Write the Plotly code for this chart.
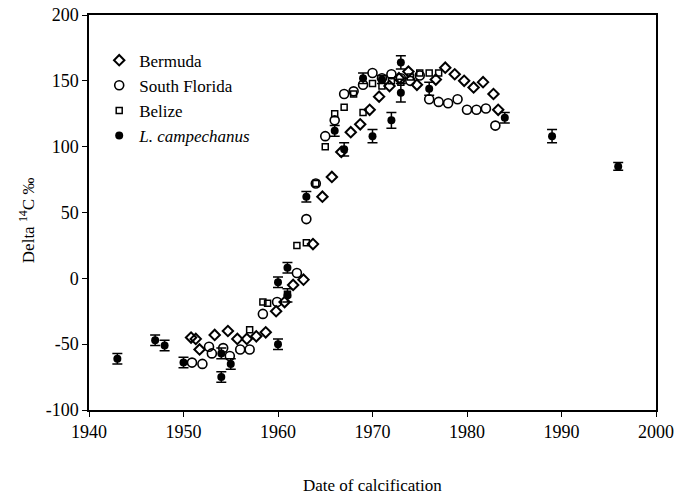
import plotly.graph_objects as go

# Bermuda (coral)
bermuda_x = [1950.8, 1951.3, 1951.7, 1953.3, 1954.7, 1955.7, 1956.7, 1957.7, 1958.7, 1959.8,
             1960.7, 1961.6, 1962.7, 1963.7, 1964.7, 1965.7, 1966.7, 1967.7, 1968.7, 1969.7,
             1970.7, 1971.8, 1972.8, 1973.8, 1974.7, 1976.7, 1977.7, 1978.7, 1979.7, 1980.7,
             1981.7, 1982.8, 1983.3]
bermuda_y = [-45, -46, -54, -43, -40, -46, -46, -44, -41, -25,
             -18, -5, -1, 26, 62, 77, 96, 111, 117, 128,
             138, 146, 152, 157, 147, 151, 160, 155, 150, 145,
             149, 140, 128]

# South Florida (coral)
florida_x = [1950.9, 1952.0, 1952.7, 1953.0, 1954.2, 1954.9, 1956.0, 1957.0, 1958.4, 1959.9,
             1962.0, 1963.0, 1964.0, 1965.0, 1966.0, 1967.0, 1968.0, 1969.0, 1970.0, 1971.0,
             1972.0, 1973.0, 1974.0, 1975.0, 1976.0, 1977.0, 1978.0, 1979.0, 1980.0, 1981.0,
             1982.0, 1983.0]
florida_y = [-64, -65, -52, -57, -53, -59, -54, -54, -27, -18,
             4, 45, 72, 108, 120, 140, 142, 147, 156, 152,
             155, 152, 150, 154, 136, 134, 133, 136, 128, 128,
             129, 116]

# Belize (coral)
belize_x = [1957.0, 1958.4, 1958.9, 1961.0, 1962.0, 1963.0, 1964.0, 1965.0, 1966.0, 1967.0,
            1968.0, 1969.0, 1970.0, 1971.0, 1972.0, 1973.0, 1974.0, 1975.0, 1976.0, 1977.0]
belize_y = [-39, -18, -19, -12, 25, 27, 72, 100, 125, 130,
            140, 126, 148, 146, 150, 149, 153, 156, 156, 156]

# L. campechanus (otoliths) with error
lc_x = [1943, 1947, 1948, 1950, 1954, 1954, 1955, 1960, 1960, 1961, 1961, 1963,
        1966, 1967, 1969, 1970, 1971, 1972, 1973, 1973, 1976, 1984, 1989, 1996]
lc_y = [-61, -47, -51, -64, -57, -75, -65, -3, -50, 8, -13, 62,
        112, 98, 152, 108, 151, 120, 164, 141, 144, 122, 108, 85]
lc_err = [4, 4, 4, 4, 4, 4, 4, 4, 4, 4, 5, 4,
          4, 5, 4, 5, 3, 6, 5, 7, 5, 4, 5, 3]

# tick labels
x_ticks = [1940, 1950, 1960, 1970, 1980, 1990, 2000]
x_ticklabels = ["1940", "1950", "1960", "1970", "1980", "1990", "2000"]
y_ticks = [-100, -50, 0, 50, 100, 150, 200]
y_ticklabels = ["-100", "-50", "0", "50", "100", "150", "200"]

x_title = "Date of calcification"
y_title = "Delta <sup>14</sup>C \u2030"

FONT = "Liberation Serif, Times New Roman, serif"

fig = go.Figure()
fig.add_trace(go.Scatter(
    x=bermuda_x, y=bermuda_y, mode="markers", name="Bermuda",
    marker=dict(symbol="diamond-open", size=8, color="black", line=dict(width=2, color="black"))))
fig.add_trace(go.Scatter(
    x=florida_x, y=florida_y, mode="markers", name="South Florida",
    marker=dict(symbol="circle-open", size=9, color="black", line=dict(width=1.6, color="black"))))
fig.add_trace(go.Scatter(
    x=belize_x, y=belize_y, mode="markers", name="Belize",
    marker=dict(symbol="square-open", size=6, color="black", line=dict(width=1.5, color="black"))))
fig.add_trace(go.Scatter(
    x=lc_x, y=lc_y, mode="markers", name="<i>L. campechanus</i>",
    marker=dict(symbol="circle", size=8, color="black"),
    error_y=dict(type="data", array=lc_err, visible=True, color="black", thickness=1.5, width=5)))

fig.update_layout(
    width=674, height=494,
    margin=dict(l=89, r=18, t=15, b=84, autoexpand=False),
    paper_bgcolor="white", plot_bgcolor="white",
    font=dict(family=FONT, size=17, color="black"),
    showlegend=True,
    legend=dict(x=0.018, y=0.93, xanchor="left", yanchor="top",
                bgcolor="rgba(0,0,0,0)", font=dict(family=FONT, size=17, color="black"),
                itemsizing="trace", tracegroupgap=0),
    xaxis=dict(range=[1940, 2000], tickvals=x_ticks, ticktext=x_ticklabels,
               showgrid=False, zeroline=False, automargin=False,
               showline=True, linecolor="black", linewidth=1.5, mirror=True,
               ticks="outside", ticklen=5, tickcolor="black",
               tickfont=dict(family=FONT, size=18, color="black")),
    yaxis=dict(range=[-100, 200], tickvals=y_ticks, ticktext=y_ticklabels,
               showgrid=False, zeroline=False, automargin=False,
               showline=True, linecolor="black", linewidth=1.5, mirror=True,
               ticks="outside", ticklen=5, tickcolor="black",
               tickfont=dict(family=FONT, size=18, color="black")),
    annotations=[
        dict(text=x_title, xref="paper", yref="paper", x=0.5, y=-0.19,
             xanchor="center", yanchor="middle", showarrow=False,
             font=dict(family=FONT, size=17, color="black")),
        dict(text=y_title, xref="paper", yref="paper", x=-0.108, y=0.48,
             xanchor="center", yanchor="middle", showarrow=False, textangle=-90,
             font=dict(family=FONT, size=17, color="black")),
    ],
)

fig.write_html("out.html", config={"displayModeBar": False},
               post_script="document.body.style.margin='0';")
